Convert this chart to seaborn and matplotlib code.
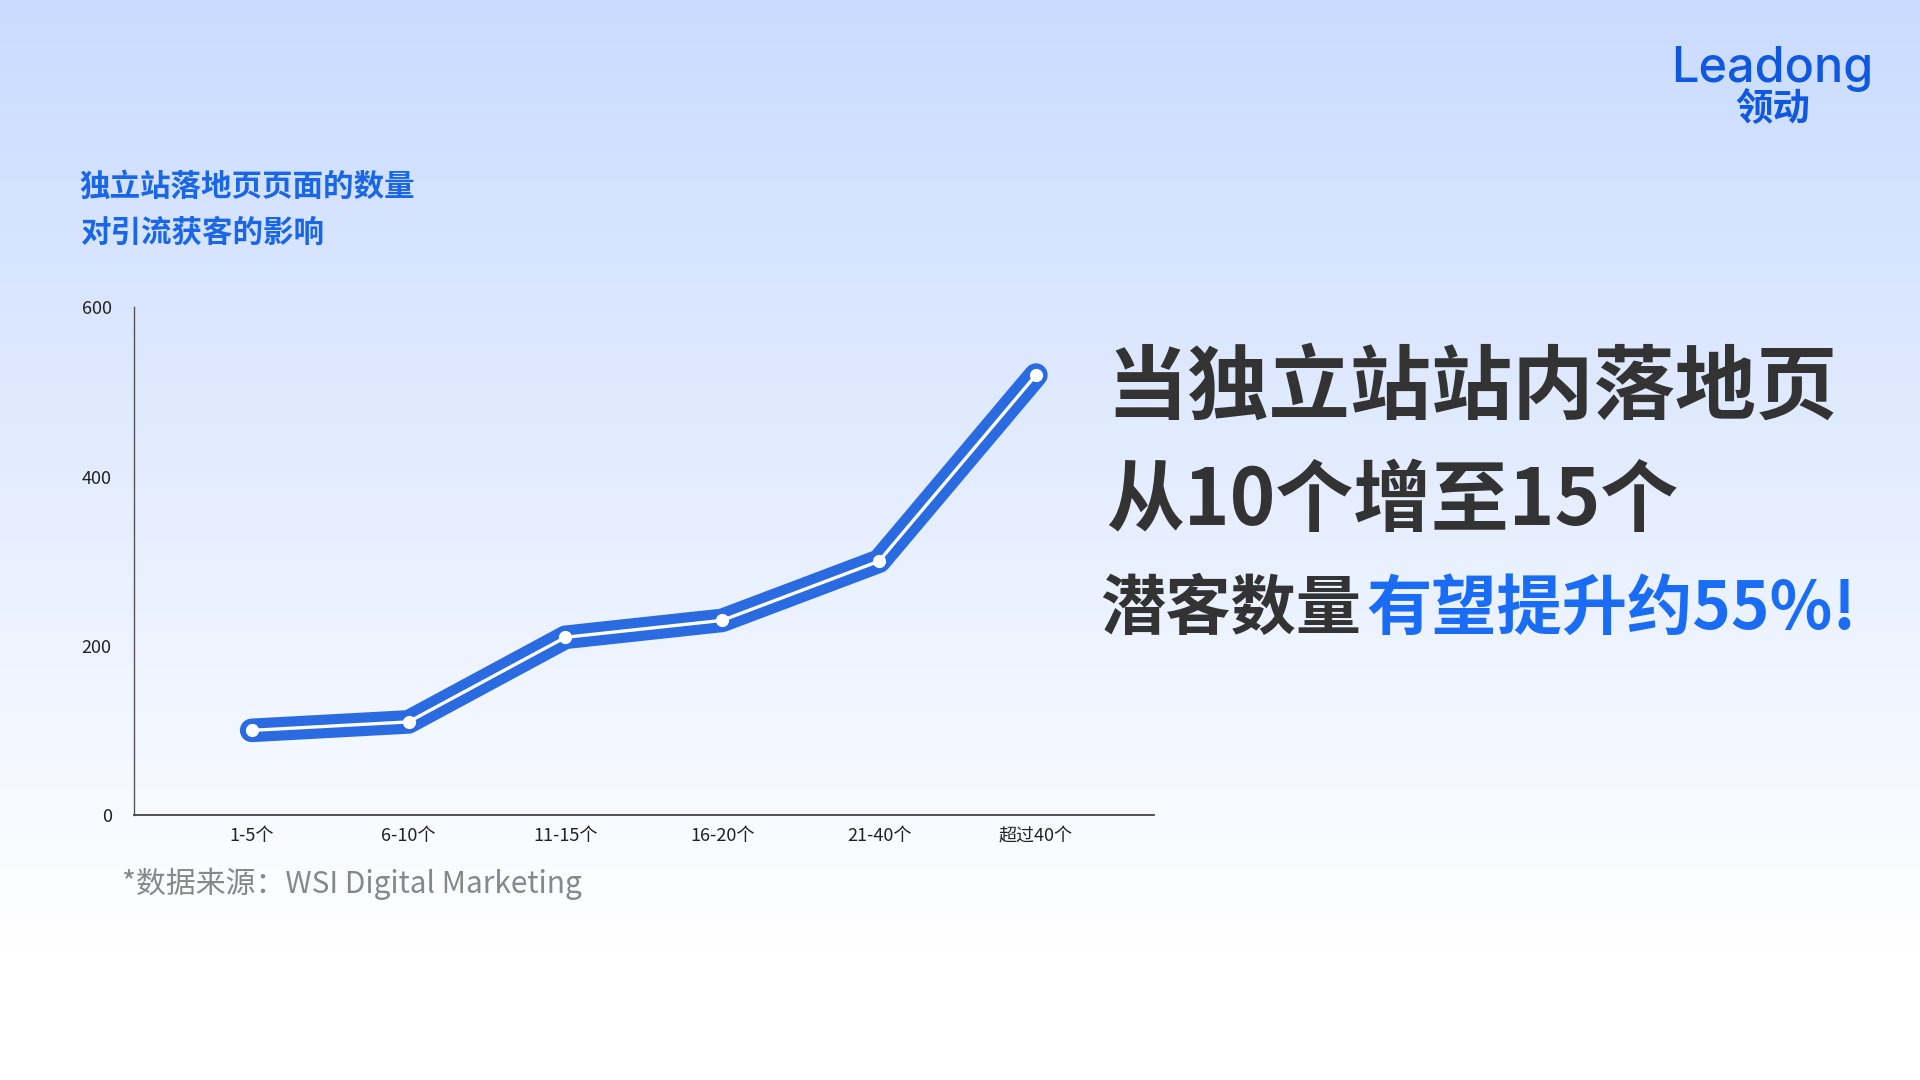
import matplotlib
matplotlib.use('Agg')
import numpy as np
import matplotlib.pyplot as plt
import seaborn as sns

sns.set_theme(style='white')
plt.rcParams['font.family'] = ['Noto Sans CJK SC', 'DejaVu Sans']

# data
categories = ['1-5个', '6-10个', '11-15个', '16-20个', '21-40个', '超过40个']
leads = [100, 110, 210, 230, 300, 520]
y_ticks = [0, 200, 400, 600]

title_lines = ['独立站落地页页面的数量', '对引流获客的影响']
headline_1 = '当独立站站内落地页'
headline_2 = '从10个增至15个'
headline_3a = '潜客数量'
headline_3b = '有望提升约55%!'
source_note = '*数据来源：WSI Digital Marketing'

BLUE = '#2a6be2'
TITLE_BLUE = '#1a66e8'
DARK = '#333333'

fig = plt.figure(figsize=(19.2, 10.8), dpi=100)

# background: light blue fading to white
bg = fig.add_axes([0, 0, 1, 1], zorder=-10)
grad = np.clip(np.linspace(0, 1, 400) / 0.88, 0, 1)[:, None]
top = np.array([0.79, 0.86, 1.0])
rgb = top[None, None, :] * (1 - grad[..., None]) + np.ones(3)[None, None, :] * grad[..., None]
bg.imshow(rgb, aspect='auto', extent=[0, 1, 0, 1])
bg.axis('off')

# main chart
ax = fig.add_axes([0.0698, 0.2454, 0.531, 0.470])
ax.set_facecolor('none')
x = np.arange(len(categories))
sns.lineplot(x=x, y=leads, ax=ax, color=BLUE, linewidth=17,
             solid_capstyle='round', solid_joinstyle='round')
ax.plot(x, leads, color='white', linewidth=2.4, solid_capstyle='round', zorder=3)
ax.plot(x, leads, linestyle='none', marker='o', markersize=8.5,
        markerfacecolor='white', markeredgecolor='white', zorder=4)

ax.set_xlim(-0.75, 5.75)
ax.set_ylim(0, 600)
ax.set_xticks(x)
ax.set_xticklabels(categories)
ax.set_yticks(y_ticks)
ax.tick_params(axis='both', length=0, labelsize=13, colors='#222222')
ax.tick_params(axis='x', pad=9)
ax.tick_params(axis='y', pad=16)
ax.grid(False)
for side in ['top', 'right']:
    ax.spines[side].set_visible(False)
ax.spines['left'].set_color('#555555')
ax.spines['left'].set_linewidth(1.0)
ax.spines['bottom'].set_color('#444444')
ax.spines['bottom'].set_linewidth(1.3)

# chart title
for i, line in enumerate(title_lines):
    fig.text(0.0415, 1 - (187 + 46 * i) / 1080, line, fontsize=22, fontweight='bold',
             color=TITLE_BLUE, ha='left', va='center')

# headline on the right
fig.text(1106 / 1920, 1 - 389 / 1080, headline_1, fontsize=58.5, fontweight='bold',
         color=DARK, ha='left', va='center')
fig.text(1106 / 1920, 1 - 502 / 1080, headline_2, fontsize=56, fontweight='bold',
         color=DARK, ha='left', va='center')
t3 = fig.text(1100 / 1920, 1 - 609 / 1080, headline_3a, fontsize=47, fontweight='bold',
              color=DARK, ha='left', va='center')
fig.canvas.draw()
bb = t3.get_window_extent()
fig.text(bb.x1 / 1920 + 0.003, 1 - 609 / 1080, headline_3b, fontsize=47, fontweight='bold',
         color='#1a6cf5', ha='left', va='center')

# source note
fig.text(122 / 1920, 1 - 884 / 1080, source_note, fontsize=21.5, color='#888888',
         ha='left', va='center')

# logo
fig.text(1772 / 1920, 1 - 69 / 1080, 'Leadong', fontsize=35, fontweight='medium',
         color='#1058e0', ha='center', va='center', family=['Inter', 'DejaVu Sans'])
fig.text(1773 / 1920, 1 - 109 / 1080, '领动', fontsize=27, fontweight='bold',
         color='#1058e0', ha='center', va='center')

plt.savefig('out.png', dpi=100)
plt.close()
